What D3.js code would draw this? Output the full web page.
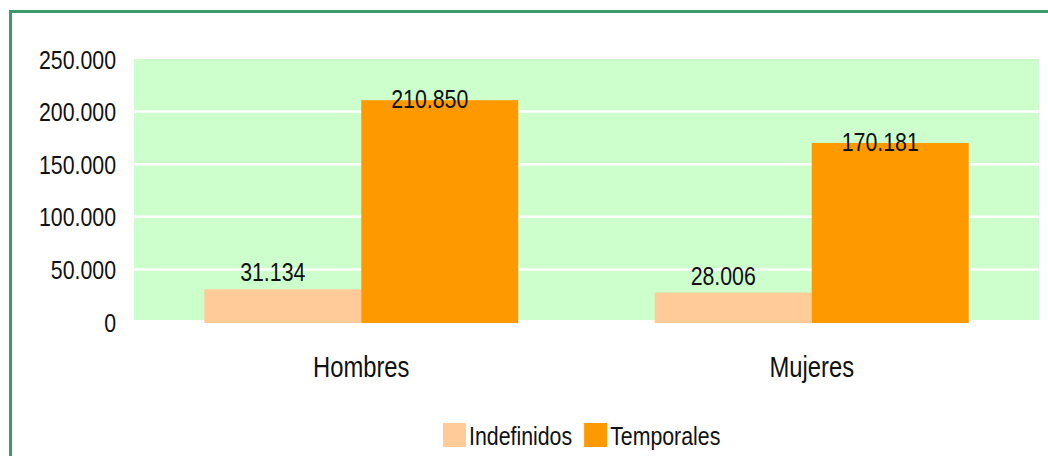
<!DOCTYPE html>
<html>
<head>
<meta charset="utf-8">
<script src="https://cdn.jsdelivr.net/npm/d3@7"></script>
<style>
  body { margin: 0; background: #fff; }
  text { font-family: "Liberation Sans", Arial, sans-serif; fill: #111; }
</style>
</head>
<body>
<script>
// datos
let categories = ["Hombres", "Mujeres"];
let series = ["Indefinidos", "Temporales"];
let indefinidos = [31134, 28006];
let temporales = [210850, 170181];
let yTicks = [0, 50000, 100000, 150000, 200000, 250000];

let colors = {"Indefinidos": "#ffcc99", "Temporales": "#ff9900"};

let W = 1048, H = 456;
let plot = {left: 134, right: 1039, top: 59, bottom: 322};

// estrecha el texto como Arial Narrow
function narrow(sel) {
  sel.each(function() {
    let len = this.getComputedTextLength();
    d3.select(this)
      .attr("textLength", len * 0.82)
      .attr("lengthAdjust", "spacingAndGlyphs");
  });
}

let svg = d3.select("body").append("svg")
  .attr("width", W)
  .attr("height", H);

// marco verde
svg.append("rect")
  .attr("x", 10.5).attr("y", 11.5)
  .attr("width", W + 20).attr("height", H + 20)
  .attr("fill", "none")
  .attr("stroke", "#3a9a6a")
  .attr("stroke-width", 3);

let fmt = d3.formatLocale({decimal: ",", thousands: ".", grouping: [3], currency: ["", ""]}).format(",d");

let yScale = d3.scaleLinear().domain([0, 250000]).range([plot.bottom, plot.top]);
let x0 = d3.scaleBand().domain(categories).range([plot.left, plot.right])
  .paddingInner(0.303).paddingOuter(0.156);
let x1 = d3.scaleBand().domain(series).range([0, x0.bandwidth()]);

// fondo del area de trazado
svg.append("rect")
  .attr("x", plot.left).attr("y", plot.top)
  .attr("width", plot.right - plot.left)
  .attr("height", plot.bottom - plot.top - 2)
  .attr("fill", "#ccffcc");

// lineas de division
svg.selectAll("line.grid")
  .data(yTicks.filter(d => d > 0 && d < 250000))
  .enter().append("line")
  .attr("class", "grid")
  .attr("x1", plot.left).attr("x2", plot.right)
  .attr("y1", d => yScale(d)).attr("y2", d => yScale(d))
  .attr("stroke", "#fff")
  .attr("stroke-width", 2.5);

let yAxis = d3.axisLeft(yScale).tickValues(yTicks).tickSize(0).tickPadding(0).tickFormat(fmt);
let gy = svg.append("g")
  .attr("transform", "translate(116,0)")
  .call(yAxis);
gy.select(".domain").remove();
gy.attr("font-family", null);
gy.selectAll("text")
  .style("font-size", "26px")
  .attr("dy", "0.35em")
  .call(narrow);

let rows = [];
categories.forEach(function(c, i) {
  rows.push({cat: c, serie: "Indefinidos", value: indefinidos[i]});
  rows.push({cat: c, serie: "Temporales", value: temporales[i]});
});

svg.selectAll("rect.bar")
  .data(rows)
  .enter().append("rect")
  .attr("class", "bar")
  .attr("x", d => x0(d.cat) + x1(d.serie))
  .attr("y", d => yScale(d.value))
  .attr("width", x1.bandwidth())
  .attr("height", d => yScale(0) - yScale(d.value) + 1)
  .attr("fill", d => colors[d.serie]);

// etiquetas de datos
svg.selectAll("text.label")
  .data(rows)
  .enter().append("text")
  .attr("class", "label")
  .attr("x", d => x0(d.cat) + x1(d.serie) + x1.bandwidth() / 2 - 10)
  .attr("y", d => yScale(d.value) + (d.serie == "Temporales" ? 8 : -8))
  .attr("text-anchor", "middle")
  .style("font-size", "26px")
  .text(d => fmt(d.value))
  .call(narrow);

// categorias
svg.selectAll("text.cat")
  .data(categories)
  .enter().append("text")
  .attr("class", "cat")
  .attr("x", d => x0(d) + x0.bandwidth() / 2)
  .attr("y", 377)
  .attr("text-anchor", "middle")
  .style("font-size", "29px")
  .text(d => d)
  .call(narrow);

// leyenda
let legend = svg.append("g").attr("transform", "translate(443,423)");
let lx = 0;
series.forEach(function(s) {
  let item = legend.append("g").attr("transform", "translate(" + lx + ",0)");
  item.append("rect")
    .attr("width", 23).attr("height", 24)
    .attr("fill", colors[s]);
  let t = item.append("text")
    .attr("x", 26).attr("y", 22)
    .style("font-size", "26px")
    .text(s)
    .call(narrow);
  lx += 26 + (+t.attr("textLength")) + 12;
});
</script>
</body>
</html>
